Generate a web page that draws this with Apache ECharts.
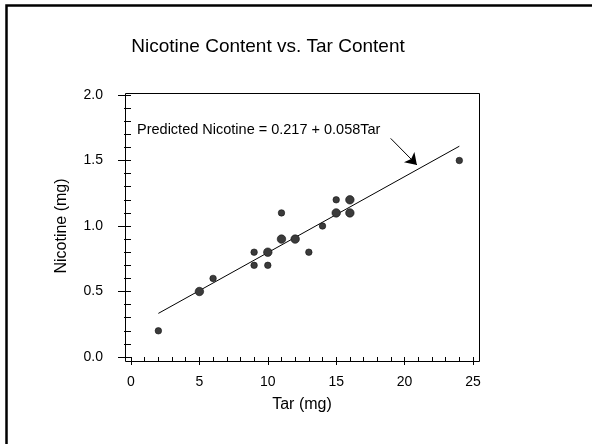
<!DOCTYPE html>
<html><head><meta charset="utf-8">
<script src="https://cdn.jsdelivr.net/npm/echarts@6/dist/echarts.min.js"></script>
<style>html,body{margin:0;padding:0;background:#fff}#c{width:592px;height:444px}</style>
</head><body><div id="c"></div>
<script>
const titleText = 'Nicotine Content vs. Tar Content';
const xName = 'Tar (mg)';
const yName = 'Nicotine (mg)';
const tar      = [2,   5,   6,   9,   9,   10,  10,  11,  11,  12,  13,  14,  15,  15,  16,  16,  24];
const nicotine = [0.2, 0.5, 0.6, 0.8, 0.7, 0.8, 0.7, 1.1, 0.9, 0.9, 0.8, 1.0, 1.2, 1.1, 1.2, 1.1, 1.5];
const count    = [1,   2,   1,   1,   1,   2,   1,   1,   2,   2,   1,   1,   1,   2,   2,   2,   1];
const fitX = [2, 24];
const fitY = [0.333, 1.609];
const eqText = 'Predicted Nicotine = 0.217 + 0.058Tar';
const eqAnchor = [0.44, 1.733];
const arrowFrom = [18.98, 1.669];
const arrowTo = [20.9, 1.466];
const xRange = [0, 25, 5];
const yRange = [0, 2, 0.5];

const FONT = 'Arial, "Liberation Sans", sans-serif';
const chart = echarts.init(document.getElementById('c'), null, {renderer: 'canvas'});

const gridL = 131, gridR = 119, gridT = 95, gridB = 87;

chart.setOption({
  animation: false,
  backgroundColor: '#fff',
  grid: {left: gridL, right: gridR, top: gridT, bottom: gridB},
  xAxis: {
    type: 'value', min: xRange[0], max: xRange[1], interval: xRange[2],
    offset: 4,
    name: xName, nameLocation: 'middle', nameGap: 36,
    nameTextStyle: {fontFamily: FONT, fontSize: 16, color: '#000'},
    axisLine: {show: false},
    axisTick: {show: true, length: 8, lineStyle: {color: '#000', width: 1}},
    minorTick: {show: true, splitNumber: 5, length: 4, lineStyle: {color: '#000', width: 1}},
    axisLabel: {fontFamily: FONT, fontSize: 14, color: '#000', margin: 14},
    splitLine: {show: false}
  },
  yAxis: {
    type: 'value', min: yRange[0], max: yRange[1], interval: yRange[2],
    offset: 6,
    name: yName, nameLocation: 'middle', nameGap: 55, nameRotate: 90,
    nameTextStyle: {fontFamily: FONT, fontSize: 16, color: '#000'},
    axisLine: {show: false},
    axisTick: {show: true, length: 13, lineStyle: {color: '#000', width: 1}},
    minorTick: {show: true, splitNumber: 5, length: 7, lineStyle: {color: '#000', width: 1}},
    axisLabel: {fontFamily: FONT, fontSize: 14, color: '#000', margin: 22,
      formatter: v => v.toFixed(1)},
    splitLine: {show: false}
  },
  series: [
    {
      type: 'line', data: fitX.map((x, i) => [x, fitY[i]]),
      symbol: 'none', lineStyle: {color: '#000', width: 1}, z: 2,
      markLine: {
        silent: true, symbol: ['none', 'arrow'], symbolSize: 11,
        lineStyle: {color: '#000', width: 1, type: 'solid'},
        itemStyle: {color: '#000'},
        label: {show: false},
        data: [[{coord: arrowFrom}, {coord: arrowTo}]]
      }
    },
    {
      type: 'scatter',
      data: tar.map((x, i) => [x, nicotine[i], count[i]]),
      symbolSize: d => d[2] > 1 ? 8.5 : 6.5,
      itemStyle: {color: '#3b3b3b', borderColor: '#111', borderWidth: 0.6, opacity: 1},
      z: 3
    }
  ]
});

const p = chart.convertToPixel({gridIndex: 0}, eqAnchor);
const c0 = chart.convertToPixel({gridIndex: 0}, [xRange[0], yRange[1]]);
const c1 = chart.convertToPixel({gridIndex: 0}, [xRange[1], yRange[0]]);
chart.setOption({
  graphic: [
    {type: 'rect', shape: {x: 6.5, y: 5.5, width: 700, height: 600},
     style: {fill: 'none', stroke: '#000', lineWidth: 2.5}, silent: true},
    {type: 'rect', shape: {x: c0[0] - 6 + 0.5, y: c0[1] - 2 + 0.5, width: (c1[0] - c0[0]) + 12, height: (c1[1] - c0[1]) + 6},
     style: {fill: 'none', stroke: '#000', lineWidth: 1}, silent: true, z: 1},
    {type: 'text', style: {text: titleText, x: 268, y: 47, align: 'center', verticalAlign: 'middle',
      font: '19px ' + FONT, fill: '#000'}},
    {type: 'text', style: {text: eqText, x: p[0], y: p[1], align: 'left', verticalAlign: 'middle',
      font: '14.5px ' + FONT, fill: '#000'}}
  ]
});
</script></body></html>
